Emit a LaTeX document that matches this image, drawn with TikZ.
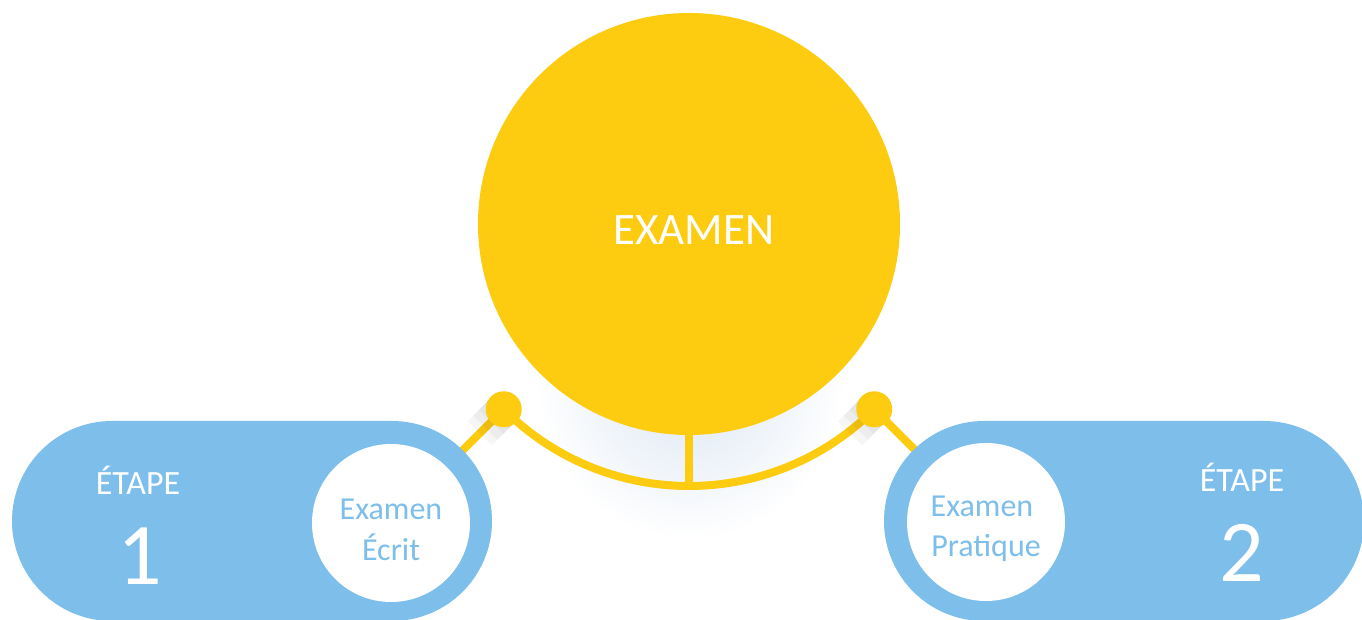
\documentclass[tikz,border=0pt]{standalone}
\usepackage{fontspec}
\setmainfont{Carlito}
\usepackage{xcolor}
\usetikzlibrary{positioning, calc}
\definecolor{examyellow}{RGB}{253,203,15}
\definecolor{stepblue}{RGB}{125,190,234}
\definecolor{shadowblue}{RGB}{218,229,242}

\begin{document}
\begin{tikzpicture}[x=1pt, y=1pt,
    stepbox/.style={rectangle, fill=stepblue, rounded corners=100pt, minimum width=480pt, minimum height=200pt, inner sep=0pt},
    examcircle/.style={circle, fill=white, minimum size=158pt, inner sep=0pt},
    link/.style={examyellow, line width=8pt},
    jointshadow/.style={line width=34pt, black, opacity=0.035},
    bigtext/.style={text=white, anchor=base, inner sep=0pt, font=\fontsize{45}{54}\selectfont},
    steptext/.style={text=white, anchor=base, inner sep=0pt, font=\fontsize{34}{40}\selectfont},
    numtext/.style={text=white, anchor=base, inner sep=0pt, font=\fontsize{88}{100}\selectfont},
    examtext/.style={text=stepblue, anchor=base, inner sep=0pt, font=\fontsize{32}{38}\selectfont}]
    \useasboundingbox (0,0) rectangle (1362,620);

    % Soft shadow below the main circle
    \begin{scope}
        \clip (520,0) rectangle (860,245);
        \shade[inner color=shadowblue, outer color=white] (690,245) ellipse (155 and 165);
    \end{scope}

    % Main circle
    \node[circle, fill=examyellow, minimum size=422pt, inner sep=0pt] (exam) at (689,396) {};
    \node[bigtext] (examlabel) at (694,375) {EXAMEN};

    % Joints of the arc
    \coordinate (joint1) at ($(exam.center)+(225:262)$);
    \coordinate (joint2) at ($(exam.center)+(315:262)$);
    \coordinate (arcbottom) at ($(exam.center)+(270:262)$);

    % Yellow connectors
    \draw[link] (joint1) arc[start angle=225, end angle=315, radius=262];
    \draw[link] (exam.south) -- (arcbottom);
    \draw[link] (joint1) -- ++(225:70);
    \draw[link] (joint2) -- ++(315:70);

    % Shadows of the joints
    \foreach \j in {joint1, joint2}
        \foreach \l in {10, 18, 26, 34}
            \draw[jointshadow] (\j) -- ++(225:\l);

    \fill[examyellow] (joint1) circle (18);
    \fill[examyellow] (joint2) circle (18);

    % Step 1
    \node[stepbox] (step1) at (252,99) {};
    \node[examcircle] (written) at (391,97) {};
    \node[steptext] (step1title) at (138,125) {ÉTAPE};
    \node[numtext] (step1num) at (140,35) {1};
    \node[examtext] (written1) at (391,100) {Examen};
    \node[examtext] (written2) at (391,59) {Écrit};

    % Step 2
    \node[stepbox] (step2) at (1124,99) {};
    \node[examcircle] (practical) at (986,98) {};
    \node[steptext] (step2title) at (1242,128) {ÉTAPE};
    \node[numtext] (step2num) at (1242,38) {2};
    \node[examtext] (practical1) at (982,103) {Examen};
    \node[examtext] (practical2) at (986,63) {Pratique};
\end{tikzpicture}
\end{document}
